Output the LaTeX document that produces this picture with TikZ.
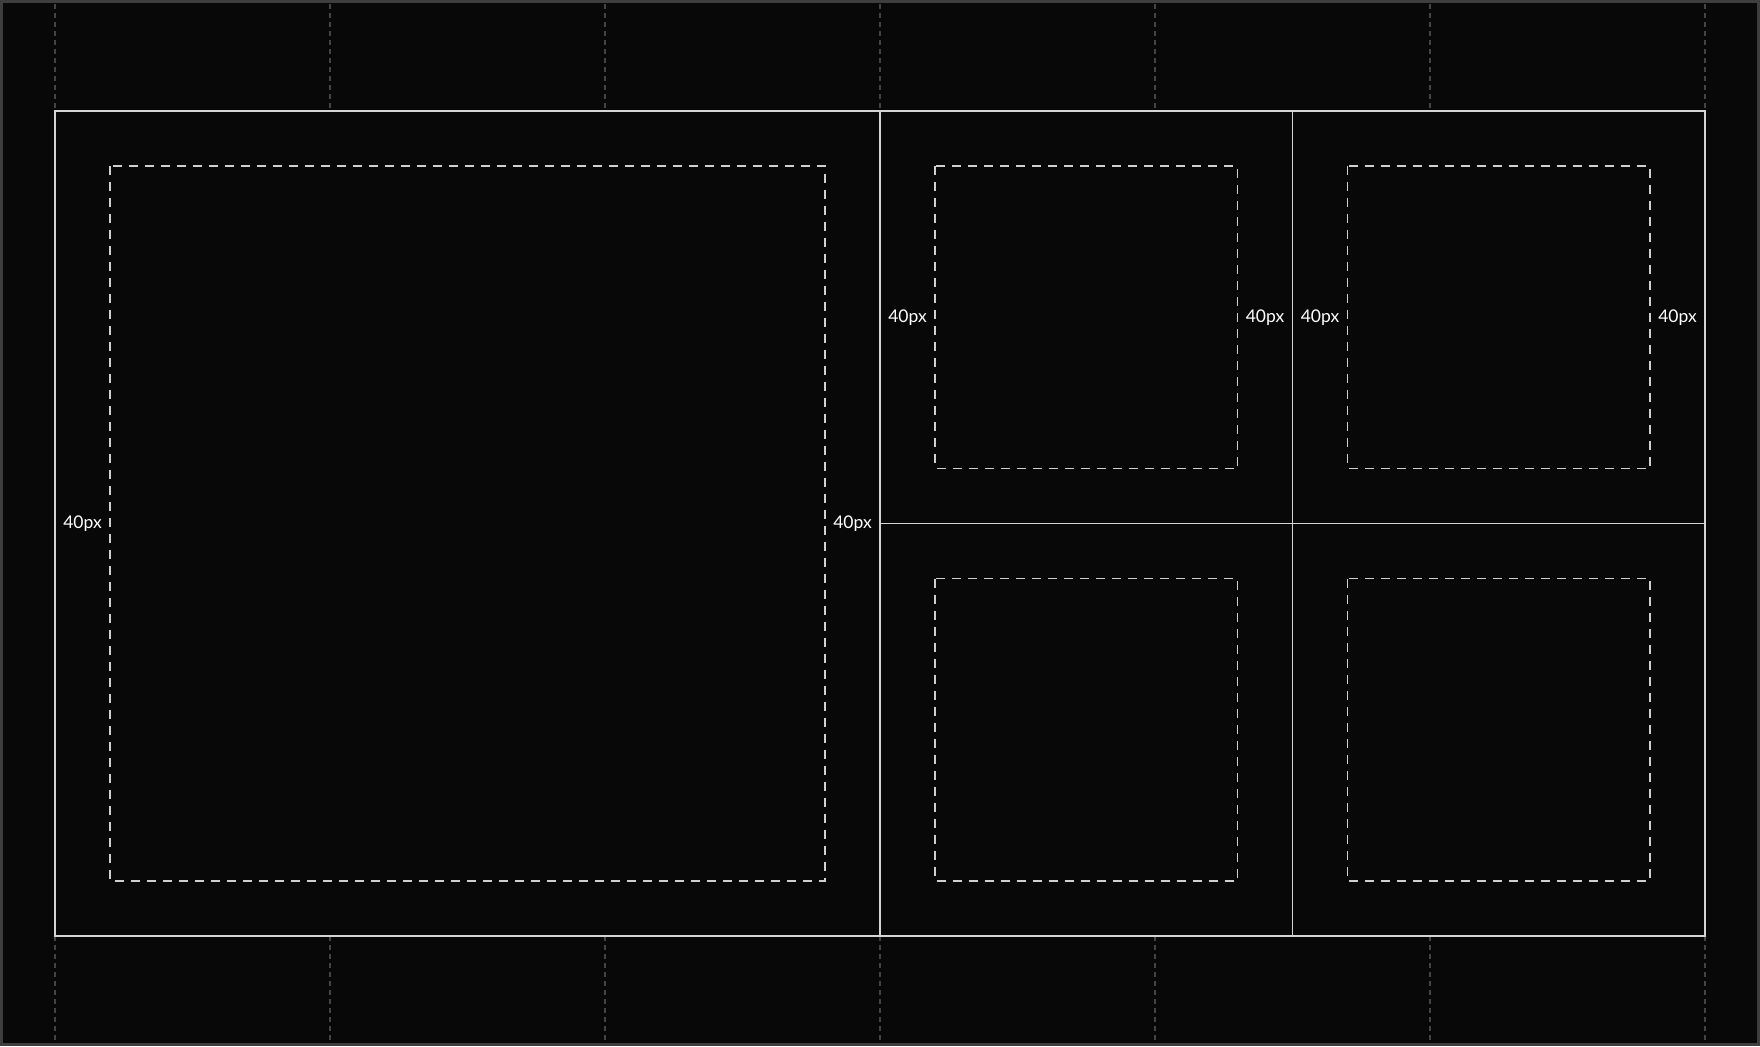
\documentclass[tikz,border=0pt]{standalone}
\usepackage{fontspec}
\setmainfont{Lato}
\definecolor{bg}{HTML}{080808}
\definecolor{frameline}{HTML}{3E3E3E}
\definecolor{gridline}{HTML}{444444}
\definecolor{cellline}{HTML}{D4D4D4}
\definecolor{padline}{HTML}{CFCFCF}
\tikzset{
  gridguide/.style={draw=gridline, line width=2.5pt, dash pattern=on 5pt off 4pt},
  cellbox/.style={draw=cellline, line width=1.7pt},
  padbox/.style={draw=padline, line width=1.5pt, dash pattern=on 9pt off 7pt},
  padlabel/.style={text=white, font=\fontsize{17.5}{19}\selectfont, inner sep=0pt}
}
\begin{document}
\begin{tikzpicture}[x=1pt,y=-1pt]
\useasboundingbox (0,0) rectangle (1760,1046);
\fill[bg] (0,0) rectangle (1760,1046);
\draw[frameline, line width=3pt] (1.5,1.5) rectangle (1758.5,1044.5);
% column guides
\foreach \i in {0,...,6} {
  \pgfmathsetmacro{\gx}{55+275*\i}
  \coordinate (gt\i) at (\gx,4);
  \coordinate (gm\i) at (\gx,111);
  \coordinate (gb\i) at (\gx,936);
  \coordinate (ge\i) at (\gx,1042);
  \draw[gridguide] (gt\i) -- (gm\i);
  \draw[gridguide] (gb\i) -- (ge\i);
}
% cells
\coordinate (A1) at (55,111);
\coordinate (A2) at (880,936);
\coordinate (B1) at (880,111);
\coordinate (B2) at (1292.5,523.5);
\coordinate (C1) at (1292.5,111);
\coordinate (C2) at (1705,523.5);
\coordinate (D1) at (880,523.5);
\coordinate (D2) at (1292.5,936);
\coordinate (E1) at (1292.5,523.5);
\coordinate (E2) at (1705,936);
\draw[cellbox] (A1) rectangle (A2);
\draw[cellbox] (B1) rectangle (B2);
\draw[cellbox] (C1) rectangle (C2);
\draw[cellbox] (D1) rectangle (D2);
\draw[cellbox] (E1) rectangle (E2);
% padding boxes
\draw[padbox] (110,166) rectangle (825,881);
\draw[padbox] (935,166) rectangle (1237.5,468.5);
\draw[padbox] (1347.5,166) rectangle (1650,468.5);
\draw[padbox] (935,578.5) rectangle (1237.5,881);
\draw[padbox] (1347.5,578.5) rectangle (1650,881);
% labels
\node[padlabel] (la) at (82.5,523.5) {40px};
\node[padlabel] (lb) at (852.5,523.5) {40px};
\node[padlabel] (lc) at (907.5,317.25) {40px};
\node[padlabel] (ld) at (1265,317.25) {40px};
\node[padlabel] (le) at (1320,317.25) {40px};
\node[padlabel] (lf) at (1677.5,317.25) {40px};
\end{tikzpicture}
\end{document}
